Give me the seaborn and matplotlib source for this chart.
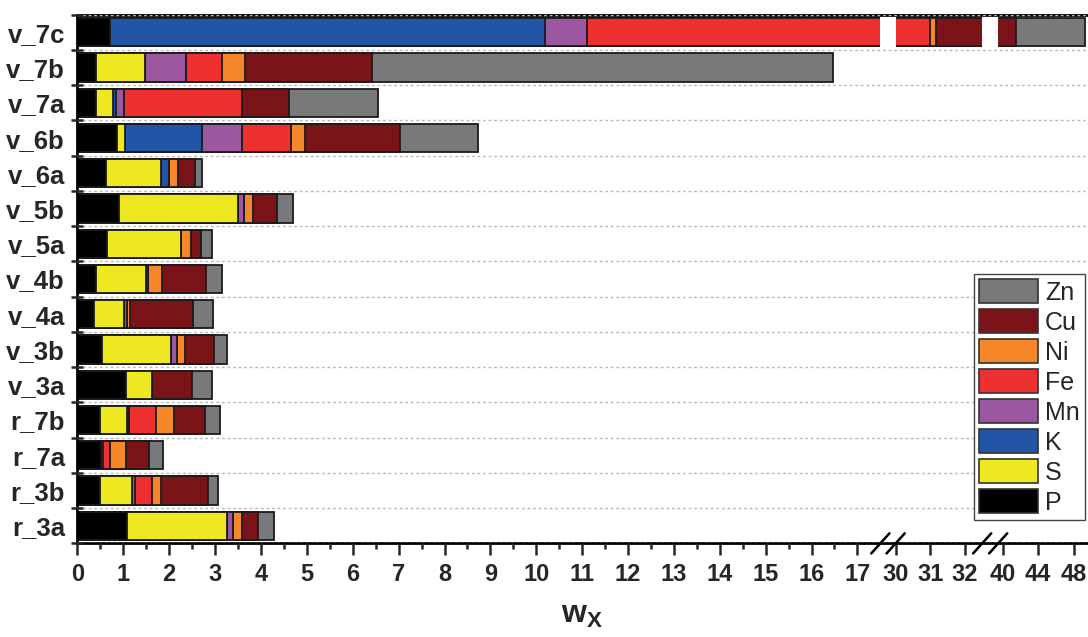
import numpy as np
import pandas as pd
import matplotlib
matplotlib.use('Agg')
import matplotlib.pyplot as plt
import seaborn as sns
from matplotlib.patches import Patch

samples = ['v_7c', 'v_7b', 'v_7a', 'v_6b', 'v_6a', 'v_5b', 'v_5a', 'v_4b',
           'v_4a', 'v_3b', 'v_3a', 'r_7b', 'r_7a', 'r_3b', 'r_3a']
elements = ['P', 'S', 'K', 'Mn', 'Fe', 'Ni', 'Cu', 'Zn']
colors = ['#000000', '#eee820', '#2255a5', '#9b58a0', '#ee3030', '#f5862a', '#7b1418', '#77797a']

# w_x of every element, in the order of samples
P = [0.72, 0.40, 0.40, 0.86, 0.63, 0.905, 0.65, 0.40, 0.36, 0.53, 1.06, 0.49, 0.51, 0.49, 1.09]
S = [0.00, 1.07, 0.37, 0.17, 1.20, 2.585, 1.60, 1.09, 0.65, 1.51, 0.57, 0.59, 0.00, 0.705, 2.18]
K = [9.46, 0.00, 0.08, 1.69, 0.165, 0.00, 0.00, 0.00, 0.00, 0.00, 0.00, 0.04, 0.00, 0.00, 0.00]
Mn = [0.92, 0.90, 0.16, 0.87, 0.00, 0.14, 0.00, 0.05, 0.06, 0.12, 0.00, 0.00, 0.05, 0.05, 0.11]
Fe = [19.9, 0.79, 2.58, 1.06, 0.00, 0.00, 0.00, 0.00, 0.00, 0.00, 0.00, 0.60, 0.155, 0.37, 0.00]
Ni = [0.17, 0.50, 0.00, 0.30, 0.20, 0.19, 0.22, 0.30, 0.07, 0.18, 0.00, 0.39, 0.345, 0.20, 0.21]
Cu = [10.33, 2.75, 1.01, 2.09, 0.37, 0.53, 0.23, 0.97, 1.38, 0.64, 0.87, 0.66, 0.505, 1.02, 0.35]
Zn = [7.8, 10.06, 1.96, 1.70, 0.16, 0.34, 0.23, 0.33, 0.43, 0.29, 0.44, 0.34, 0.30, 0.22, 0.34]

xticks = list(range(0, 18)) + [30, 31, 32, 40, 44, 48]

df = pd.DataFrame({'sample': samples, 'P': P, 'S': S, 'K': K, 'Mn': Mn,
                   'Fe': Fe, 'Ni': Ni, 'Cu': Cu, 'Zn': Zn})
cum = df[elements].cumsum(axis=1)
cum['sample'] = df['sample']

sns.set_style('white')
plt.rcParams['font.family'] = ['Liberation Sans', 'DejaVu Sans']
plt.rcParams['mathtext.fontset'] = 'custom'
plt.rcParams['mathtext.bf'] = 'Liberation Sans:bold'
plt.rcParams['mathtext.rm'] = 'Liberation Sans'

fig, ax = plt.subplots(figsize=(10.88, 6.37), dpi=100)
fig.subplots_adjust(left=0.0712, right=0.999, top=0.977, bottom=0.147)

# stacked bars: draw cumulative totals from the last element backwards
for el, c in reversed(list(zip(elements, colors))):
    sns.barplot(data=cum, x=el, y='sample', order=samples, color=c, saturation=1,
                orient='h', width=0.8, errorbar=None, edgecolor='#1a1a1a',
                linewidth=1.3, ax=ax)

# broken axis: 0-17.5 | 30-32.5 | 39.5-49.5
bx = [-100, 0, 17.5, 30, 32.5, 39.5, 49.5, 1000]
bu = [-4587, 0, 802.7, 818, 904.5, 920.5, 1009.2, 1009.2 + 950.5 * 8.87]


def fwd(x):
    return np.interp(x, bx, bu)


def inv(u):
    return np.interp(u, bu, bx)


ax.set_xscale('function', functions=(fwd, inv))
ax.set_xlim(0, 49.5)
ax.set_ylim(len(samples) - 0.5, -0.5)

for a, b in [(17.5, 30), (32.5, 39.5)]:
    ax.axvspan(a, b, color='white', zorder=2, lw=0)

ax.set_xticks(xticks)
ax.set_xticklabels([str(t) for t in xticks])
ax.set_xticks(np.arange(0.5, 17, 1), minor=True)
ax.set_yticks(np.arange(-0.5, len(samples), 1), minor=True)

ax.set_axisbelow(False)
ax.grid(False)
ax.grid(axis='y', which='minor', color='#b8b8b8', linestyle=(0, (2, 2)), lw=1)

for side in ['left', 'top', 'bottom']:
    ax.spines[side].set_linewidth(2)
    ax.spines[side].set_color('black')
ax.spines['right'].set_visible(False)

ax.tick_params(axis='x', which='major', direction='out', length=8.5, width=1.8,
               labelsize=17, pad=6, bottom=True)
ax.tick_params(axis='x', which='minor', direction='out', length=4.5, width=1.8, bottom=True)
ax.tick_params(axis='y', which='major', length=0, labelsize=18.5, pad=9)
ax.tick_params(axis='y', which='minor', direction='inout', length=8, width=1.8, left=True)
for lab in ax.get_xticklabels() + ax.get_yticklabels():
    lab.set_fontweight('bold')

ax.set_ylabel('')
ax.set_xlabel(r'$\mathbf{w_X}$', fontsize=23, labelpad=10)

# break marks on the x axis
span = fwd(49.5)
for b in [17.5, 30, 32.5, 39.5]:
    f = fwd(b) / span
    ax.plot([f - 0.009, f + 0.009], [-0.019, 0.019], transform=ax.transAxes,
            color='black', lw=1.8, clip_on=False, zorder=5)

handles = [Patch(facecolor=c, edgecolor='#333333', lw=1.2, label=el)
           for el, c in reversed(list(zip(elements, colors)))]
leg = ax.legend(handles=handles, loc='upper right', bbox_to_anchor=(0.998, 0.509),
                borderaxespad=0, fontsize=18, handlelength=2.35, handleheight=1.1,
                labelspacing=0.18, handletextpad=0.3, borderpad=0.2,
                fancybox=False, framealpha=1)
leg.get_frame().set_edgecolor('#444444')
leg.get_frame().set_linewidth(1)

fig.savefig('out.png', dpi=100)
